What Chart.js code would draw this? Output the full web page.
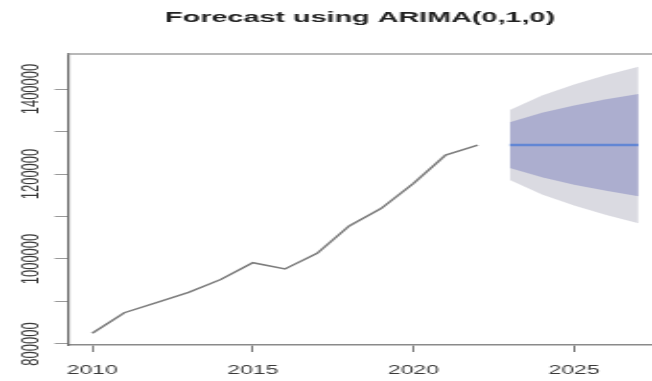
<!DOCTYPE html>
<html>
<head>
<meta charset="utf-8">
<title>Forecast using ARIMA(0,1,0)</title>
<script src="https://cdn.jsdelivr.net/npm/chart.js@4.4.1/dist/chart.umd.min.js"></script>
<style>
  html, body { margin: 0; padding: 0; background: #fff; overflow: hidden; }
  /* the canvas is drawn narrow and stretched sideways, like the reference */
  #chart { display: block; width: 652px !important; height: 381px !important; }
</style>
</head>
<body>
<canvas id="chart" width="340" height="381"></canvas>
<script>
// observed series
const years = [2010, 2011, 2012, 2013, 2014, 2015, 2016, 2017, 2018, 2019, 2020, 2021, 2022];
const observed = [825200, 873600, 897400, 921700, 951800, 991300, 976500, 1013400, 1077700, 1119300, 1178000, 1244700, 1268200];

// forecast horizon
const forecastYears = [2023, 2024, 2025, 2026, 2027];
const forecastMean = [1268200, 1268200, 1268200, 1268200, 1268200];
const lo80 = [1214400, 1192100, 1175000, 1160600, 1147900];
const hi80 = [1322000, 1344300, 1361400, 1375800, 1388500];
const lo95 = [1185900, 1151800, 1125600, 1103600, 1084100];
const hi95 = [1350500, 1384600, 1410800, 1432800, 1452300];

// axis ticks
const xTicks = [2010, 2015, 2020, 2025];
const yTicks = [800000, 900000, 1000000, 1100000, 1200000, 1300000, 1400000];
const yLabelled = [800000, 1000000, 1200000, 1400000];

const pts = (xs, ys) => xs.map((x, i) => ({ x: x, y: ys[i] }));

Chart.defaults.font.family = "'Liberation Sans', Arial, sans-serif";
Chart.defaults.color = '#3a3a3a';

// top edge of the plot box
const topBorder = {
    id: 'topBorder',
    afterDraw(chart) {
        const { ctx, chartArea } = chart;
        ctx.save();
        ctx.strokeStyle = '#a0a0a0';
        ctx.lineWidth = 1.5;
        ctx.beginPath();
        ctx.moveTo(chartArea.left, chartArea.top);
        ctx.lineTo(chartArea.right, chartArea.top);
        ctx.stroke();
        ctx.restore();
    }
};

const band = (data, color, fill) => ({
    data: data, borderWidth: 0, pointRadius: 0, fill: fill,
    backgroundColor: color, borderColor: color
});

new Chart(document.getElementById('chart'), {
    type: 'line',
    data: {
        datasets: [
            { label: 'Forecast', data: pts(forecastYears, forecastMean), borderColor: 'rgb(98,134,212)',
              borderWidth: 2.6, pointRadius: 0, fill: false },
            { label: 'Observed', data: pts(years, observed), borderColor: '#7c7c7c',
              borderWidth: 1.5, pointRadius: 0, fill: false },
            band(pts(forecastYears, hi80), 'rgb(172,174,207)', '+1'),
            band(pts(forecastYears, lo80), 'rgb(172,174,207)', false),
            band(pts(forecastYears, hi95), 'rgb(218,218,225)', '+1'),
            band(pts(forecastYears, lo95), 'rgb(218,218,225)', false)
        ]
    },
    options: {
        responsive: false,
        animation: false,
        devicePixelRatio: 1,
        layout: { padding: 0 },
        plugins: {
            legend: { display: false },
            tooltip: { enabled: false },
            title: {
                display: true,
                text: 'Forecast using ARIMA(0,1,0)',
                fullSize: false,
                color: '#222',
                font: { size: 15, weight: 'bold' },
                padding: { top: 9, bottom: 27 }
            }
        },
        scales: {
            x: {
                type: 'linear',
                min: 2009.25,
                max: 2027.425,
                afterBuildTicks: s => { s.ticks = xTicks.map(v => ({ value: v })); },
                afterFit: s => { s.height = 36; },
                ticks: { callback: v => String(v), font: { size: 12 }, padding: 11, maxRotation: 0, autoSkip: false },
                grid: { drawOnChartArea: false, tickLength: 7, color: '#777', lineWidth: 1 },
                border: { color: '#8a8a8a', width: 1.5 }
            },
            y: {
                min: 797600,
                max: 1482400,
                afterBuildTicks: s => { s.ticks = yTicks.map(v => ({ value: v })); },
                afterFit: s => { s.width = 35.5; },
                ticks: {
                    callback: v => yLabelled.includes(v) ? String(v) : '',
                    font: { size: 13 }, minRotation: 90, maxRotation: 90,
                    crossAlign: 'center', padding: -13.5, autoSkip: false
                },
                grid: { drawOnChartArea: false, tickLength: 7, color: '#999', lineWidth: 1 },
                border: { color: '#6a6a6a', width: 1.2 }
            }
        }
    },
    plugins: [topBorder]
});
</script>
</body>
</html>
